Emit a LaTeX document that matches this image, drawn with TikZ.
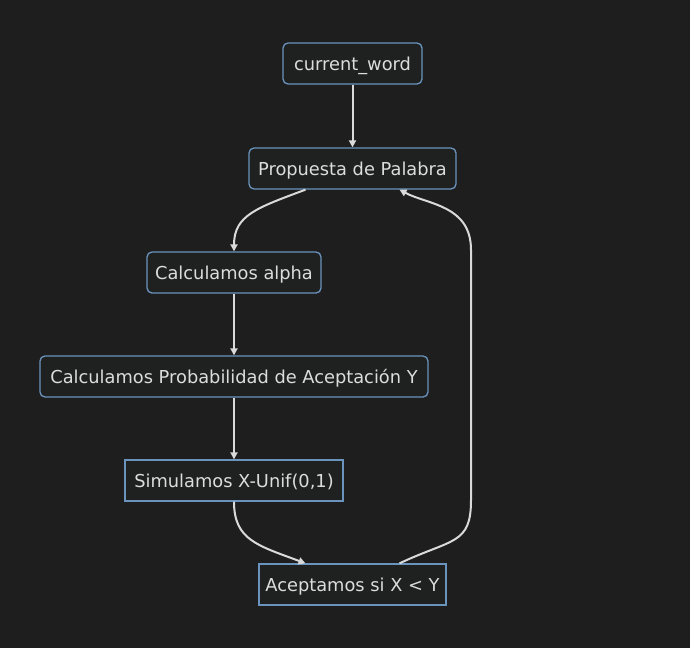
\documentclass[tikz,border=0pt]{standalone}
\usepackage{fontspec}
\setmainfont{DejaVu Sans}
\usetikzlibrary{calc,arrows.meta}
\definecolor{bgc}{HTML}{1E1E1E}
\definecolor{nodefill}{HTML}{1F2020}
\definecolor{nodeline}{HTML}{6A94BD}
\definecolor{txt}{HTML}{DCDCDC}
\definecolor{edge}{HTML}{DADADA}
\begin{document}
\begin{tikzpicture}[x=1pt,y=-1pt,
  box/.style={draw=nodeline,fill=nodefill,line width=1.3pt,text=txt,font=\fontsize{17.8}{21}\selectfont,minimum height=41pt,text height=13pt,text depth=0pt,inner xsep=2pt,anchor=center},
  rbox/.style={box,rounded corners=5pt},
  conn/.style={draw=edge,line width=2pt,-{Triangle[length=7pt,width=7pt]}}]
\fill[bgc] (0,0) rectangle (690,648);
\useasboundingbox (0,0) rectangle (690,648);
\node[rbox,minimum width=139pt] (cw) at (352.5,63.5) {current\_word};
\node[rbox,minimum width=207pt] (prop) at (352.5,168.5) {Propuesta de Palabra};
\node[rbox,minimum width=174pt] (alpha) at (234,272.5) {Calculamos alpha};
\node[rbox,minimum width=388pt] (prob) at (234,376.5) {Calculamos Probabilidad de Aceptación Y};
\node[box,minimum width=218pt] (sim) at (234,480.5) {Simulamos X-Unif(0,1)};
\node[box,minimum width=187pt] (acep) at (352.5,584.5) {Aceptamos si X < Y};
\draw[conn] (cw) -- (prop);
\draw[conn] ($(prop.south)+(-47,0)$) .. controls ($(prop.south)+(-95,18)$) and (alpha.north |- 0,215) .. (alpha.north);
\draw[conn] (alpha) -- (prob);
\draw[conn] (prob) -- (sim);
\draw[conn] (sim.south) .. controls (sim.south |- 0,540) and ($(acep.north)+(-95,-18)$) .. ($(acep.north)+(-47,0)$);
\coordinate (r1) at (471,500);
\coordinate (r2) at (471,250);
\draw[conn] ($(acep.north)+(47,0)$) .. controls ($(acep.north)+(100,-25)$) and (471,545) .. (r1) -- (r2) .. controls (471,205) and ($(prop.south)+(75,15)$) .. ($(prop.south)+(47,0)$);
\end{tikzpicture}
\end{document}
